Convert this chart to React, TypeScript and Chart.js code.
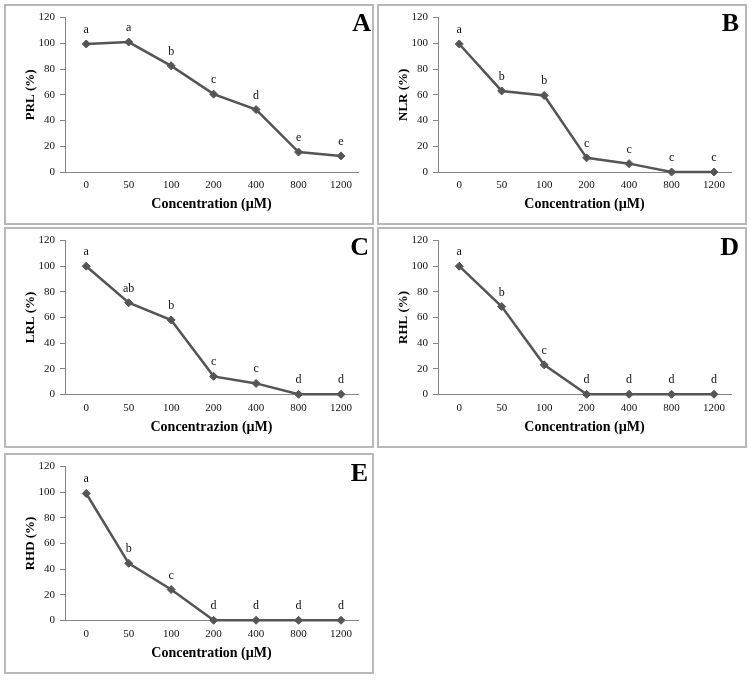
import React, { useEffect, useRef } from "react";
import { Chart, registerables } from "chart.js";

Chart.register(...registerables);

// ---------- data ----------
const categories = ["0", "50", "100", "200", "400", "800", "1200"];
const yTicks = [0, 20, 40, 60, 80, 100, 120];

const prlValues = [99.5, 101, 82.5, 60.5, 48.5, 15.5, 12.5];
const prlLetters = ["a", "a", "b", "c", "d", "e", "e"];

const nlrValues = [99.5, 63, 59.5, 11, 6.5, 0, 0];
const nlrLetters = ["a", "b", "b", "c", "c", "c", "c"];

const lrlValues = [100, 71.5, 58, 14, 8.5, 0, 0];
const lrlLetters = ["a", "ab", "b", "c", "c", "d", "d"];

const rhlValues = [100, 68.5, 23, 0, 0, 0, 0];
const rhlLetters = ["a", "b", "c", "d", "d", "d", "d"];

const rhdValues = [99, 44.5, 24, 0, 0, 0, 0];
const rhdLetters = ["a", "b", "c", "d", "d", "d", "d"];

// ---------- layout / style ----------
const FONT = "'Liberation Serif', 'Times New Roman', serif";
const PANEL_W = 370;
const PANEL_H = 221;
const BORDER = 2;
const CW = PANEL_W - 2 * BORDER;
const CH = PANEL_H - 2 * BORDER;
const LINE = "#555555";
const AXIS = "#868686";

type Panel = {
  id: string;
  yTitle: string;
  xTitle: string;
  values: number[];
  letters: string[];
  left: number;
  top: number;
  plotTop: number;
  plotBottom: number;
  letterX: number;
  letterY: number;
};

const panels: Panel[] = [
  { id: "A", yTitle: "PRL (%)", xTitle: "Concentration (µM)", values: prlValues, letters: prlLetters, left: 4, top: 4, plotTop: 10, plotBottom: 166, letterX: 365, letterY: 25 },
  { id: "B", yTitle: "NLR (%)", xTitle: "Concentration (µM)", values: nlrValues, letters: nlrLetters, left: 377, top: 4, plotTop: 10, plotBottom: 166, letterX: 360, letterY: 25 },
  { id: "C", yTitle: "LRL (%)", xTitle: "Concentrazion (µM)", values: lrlValues, letters: lrlLetters, left: 4, top: 227, plotTop: 11, plotBottom: 165.3, letterX: 363, letterY: 26 },
  { id: "D", yTitle: "RHL (%)", xTitle: "Concentration (µM)", values: rhlValues, letters: rhlLetters, left: 377, top: 227, plotTop: 11, plotBottom: 165.3, letterX: 360, letterY: 25.5 },
  { id: "E", yTitle: "RHD (%)", xTitle: "Concentration (µM)", values: rhdValues, letters: rhdLetters, left: 4, top: 453, plotTop: 11, plotBottom: 165.3, letterX: 362, letterY: 26 },
];

function PanelChart({ p }: { p: Panel }) {
  const ref = useRef<HTMLCanvasElement | null>(null);

  useEffect(() => {
    if (!ref.current) return;

    const lettersPlugin = {
      id: "pointLetters" + p.id,
      afterDatasetsDraw(chart: any) {
        const ctx = chart.ctx;
        const meta = chart.getDatasetMeta(0);
        ctx.save();
        ctx.font = `12px ${FONT}`;
        ctx.fillStyle = "#111";
        ctx.textAlign = "center";
        ctx.textBaseline = "alphabetic";
        meta.data.forEach((pt: any, i: number) => {
          ctx.fillText(p.letters[i], pt.x, pt.y - 11);
        });
        ctx.restore();
      },
    };

    const panelLetterPlugin = {
      id: "panelLetter" + p.id,
      afterDraw(chart: any) {
        const ctx = chart.ctx;
        ctx.save();
        ctx.font = `bold 26px ${FONT}`;
        ctx.fillStyle = "#000";
        ctx.textAlign = "right";
        ctx.textBaseline = "alphabetic";
        ctx.fillText(p.id, p.letterX, p.letterY);
        ctx.restore();
      },
    };

    const chart = new Chart(ref.current, {
      type: "line",
      data: {
        datasets: [
          {
            data: p.values.map((v, i) => ({ x: i, y: v })),
            borderColor: LINE,
            backgroundColor: LINE,
            borderWidth: 2.5,
            pointStyle: "rectRot",
            pointRadius: 4,
            pointBackgroundColor: LINE,
            pointBorderColor: LINE,
            pointBorderWidth: 1,
            tension: 0,
            clip: false as any,
          },
        ],
      },
      options: {
        animation: false,
        responsive: false,
        maintainAspectRatio: false,
        events: [],
        layout: { padding: { left: 0, right: CW - 352, top: p.plotTop, bottom: 0 } },
        plugins: { legend: { display: false }, tooltip: { enabled: false } },
        scales: {
          x: {
            type: "linear",
            min: -0.5,
            max: 6.4,
            afterBuildTicks: (s: any) => {
              s.ticks = categories.map((_, i) => ({ value: i }));
            },
            afterFit: (s: any) => {
              s.height = CH - p.plotBottom;
            },
            ticks: {
              callback: (v: any) => categories[v] ?? "",
              font: { family: FONT, size: 11 },
              color: "#111",
              padding: 7,
              maxRotation: 0,
              autoSkip: false,
            },
            grid: { display: true, drawOnChartArea: false, drawTicks: false, color: AXIS },
            border: { display: true, color: AXIS, width: 1 },
            title: {
              display: true,
              text: p.xTitle,
              font: { family: FONT, size: 14, weight: "bold" },
              color: "#000",
              padding: { top: 0, bottom: 10 },
            },
          },
          y: {
            min: 0,
            max: 120,
            afterBuildTicks: (s: any) => {
              s.ticks = yTicks.map((v) => ({ value: v }));
            },
            afterFit: (s: any) => {
              s.width = 59;
            },
            ticks: {
              font: { family: FONT, size: 11 },
              color: "#111",
              padding: 5,
            },
            grid: { display: true, drawOnChartArea: false, drawTicks: true, tickLength: 5, color: AXIS },
            border: { display: true, color: AXIS, width: 1 },
            title: {
              display: true,
              text: p.yTitle,
              font: { family: FONT, size: 13, weight: "bold" },
              color: "#000",
              padding: { top: 17, bottom: 0 },
            },
          },
        },
      } as any,
      plugins: [lettersPlugin, panelLetterPlugin],
    });

    return () => chart.destroy();
  }, [p]);

  return (
    <div
      style={{
        position: "absolute",
        left: p.left,
        top: p.top,
        width: PANEL_W,
        height: PANEL_H,
        boxSizing: "border-box",
        border: `${BORDER}px solid #b8b8b8`,
        background: "#fff",
      }}
    >
      <canvas ref={ref} width={CW} height={CH} style={{ display: "block", width: CW, height: CH }} />
    </div>
  );
}

export default function App() {
  return (
    <div style={{ position: "absolute", left: 0, top: 0, width: 750, height: 680, background: "#fff", overflow: "hidden" }}>
      {panels.map((p) => (
        <PanelChart key={p.id} p={p} />
      ))}
    </div>
  );
}
